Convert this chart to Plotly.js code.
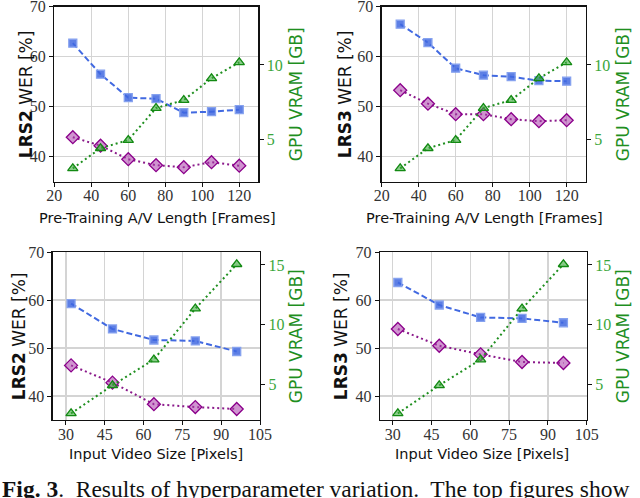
<!DOCTYPE html>
<html>
<head>
<meta charset="utf-8">
<script src="https://cdn.plot.ly/plotly-3.0.1.min.js"></script>
<style>
  html, body { margin: 0; padding: 0; background: #fff; }
  #chart { width: 640px; height: 498px; }
</style>
</head>
<body>
<div id="chart"></div>
<script>
// x values
var frames = [30, 45, 60, 75, 90, 105, 120];
var pixels = [32, 48, 64, 80, 96];

// WER values
var lrs2LenSquare  = [62.7, 56.5, 51.8, 51.6, 48.8, 49.0, 49.4];
var lrs2LenDiamond = [43.9, 42.2, 39.5, 38.3, 37.9, 38.9, 38.2];
var lrs3LenSquare  = [66.5, 62.8, 57.7, 56.3, 56.0, 55.2, 55.1];
var lrs3LenDiamond = [53.3, 50.6, 48.5, 48.5, 47.5, 47.1, 47.3];
var lrs2SizeSquare  = [59.3, 54.0, 51.7, 51.5, 49.3];
var lrs2SizeDiamond = [46.4, 42.8, 38.3, 37.7, 37.3];
var lrs3SizeSquare  = [63.7, 59.0, 56.4, 56.2, 55.3];
var lrs3SizeDiamond = [54.0, 50.5, 48.7, 47.1, 46.9];

// GPU memory
var vramLength = [3.05, 4.4, 4.95, 7.1, 7.64, 9.1, 10.18];
var vramSize   = [2.6, 4.95, 7.1, 11.35, 15.06];

// tick labels
var lengthTicks = [20, 40, 60, 80, 100, 120];
var sizeTicks = [30, 45, 60, 75, 90, 105];
var werTicks = [40, 50, 60, 70];

var W = 640, H = 498;
var BLUE = '#4169e1', PURPLE = '#8b1a8b', GREEN = '#1f8f1f', GREEN_TXT = '#3aa63a';
var SERIF = 'Liberation Serif, serif';
var SANS = 'DejaVu Sans, sans-serif';

function px(x) { return x / W; }
function py(y) { return 1 - y / H; }

var traces = [];
var layout = {
    width: W, height: H,
    margin: {l: 0, r: 0, t: 0, b: 0},
    paper_bgcolor: '#fff', plot_bgcolor: '#fff',
    showlegend: false,
    annotations: []
};

function addPanel(n, box, xs, sq, di, vram, xcfg, y2range, y2ticks, titles) {
    var xa = n == 1 ? 'x' : 'x' + n;
    var ya = 'y' + (n == 1 ? '' : (2 * n - 1));
    var yb = 'y' + (2 * n);
    var xKey = n == 1 ? 'xaxis' : 'xaxis' + n;
    var yKey = 'yaxis' + (n == 1 ? '' : (2 * n - 1));
    var y2Key = 'yaxis' + (2 * n);

    traces.push({
        x: xs, y: sq, xaxis: xa, yaxis: ya, type: 'scatter', mode: 'lines+markers',
        line: {color: BLUE, width: 2, dash: '6px,3px'},
        marker: {symbol: 'square', size: 8, color: 'rgba(65,105,225,0.85)', line: {color: '#86a2ef', width: 1.3}}
    });
    traces.push({
        x: xs, y: di, xaxis: xa, yaxis: ya, type: 'scatter', mode: 'lines+markers',
        line: {color: PURPLE, width: 2, dash: '2px,3px'},
        marker: {symbol: 'diamond', size: 10, color: 'rgba(170,60,170,0.55)', line: {color: '#8b008b', width: 1.3}}
    });
    traces.push({
        x: xs, y: vram, xaxis: xa, yaxis: yb, type: 'scatter', mode: 'lines+markers',
        line: {color: GREEN, width: 2, dash: '2px,3px'},
        marker: {symbol: 'triangle-up', size: 9, color: 'rgba(60,170,60,0.6)', line: {color: '#138a13', width: 1.3}}
    });

    var xd = [px(box[0]), px(box[1])];
    var yd = [py(box[3]), py(box[2])];

    layout[xKey] = {
        domain: xd, anchor: ya, range: xcfg.range, tickvals: xcfg.ticks,
        showgrid: true, gridcolor: '#d4d4d4', gridwidth: 1.5, zeroline: false,
        showline: true, linecolor: '#111', linewidth: 1.3, mirror: true,
        ticks: 'outside', ticklen: 4, tickcolor: '#111', ticklabeloverflow: 'allow',
        ticklabelstandoff: -5,
        tickfont: {family: SERIF, size: 16, color: '#333'}
    };
    layout[yKey] = {
        domain: yd, anchor: xa, range: [35, 70], tickvals: werTicks,
        showgrid: true, gridcolor: '#d4d4d4', gridwidth: 1.5, zeroline: false,
        showline: true, linecolor: '#111', linewidth: 1.3,
        ticks: 'outside', ticklen: 4, tickcolor: '#111', ticklabeloverflow: 'allow',
        tickfont: {family: SERIF, size: 16, color: '#333'}
    };
    layout[y2Key] = {
        overlaying: ya, anchor: xa, side: 'right', range: y2range, tickvals: y2ticks,
        showgrid: false, zeroline: false,
        showline: true, linecolor: '#111', linewidth: 1.3,
        ticks: 'outside', ticklen: 4, tickcolor: '#111', ticklabeloverflow: 'allow',
        tickfont: {family: SERIF, size: 16, color: GREEN_TXT}
    };

    var midY = (box[2] + box[3]) / 2;
    layout.annotations.push({
        xref: 'paper', yref: 'paper', x: px(titles.leftX), y: py(midY), textangle: -90,
        xanchor: 'center', yanchor: 'middle',
        text: '<b>' + titles.set + '</b> WER [%]', showarrow: false,
        font: {family: SANS, size: 17, color: '#111'}
    });
    layout.annotations.push({
        xref: 'paper', yref: 'paper', x: px(titles.rightX), y: py(midY), textangle: -90,
        xanchor: 'center', yanchor: 'middle',
        text: 'GPU VRAM [GB]', showarrow: false,
        font: {family: SANS, size: 17, color: GREEN}
    });
    layout.annotations.push({
        xref: 'paper', yref: 'paper', x: px(titles.bottomX), y: py(titles.bottomY),
        xanchor: 'center', yanchor: 'middle',
        text: titles.xTitle, showarrow: false,
        font: {family: SANS, size: 14.5, color: '#111'}
    });
}

// boxes: [left, right, top, bottom] in pixels
addPanel(1, [54.3, 258.3, 6.7, 181.7], frames, lrs2LenSquare, lrs2LenDiamond, vramLength,
    {range: [20, 130.3], ticks: lengthTicks}, [2.15, 13.92], [5, 10],
    {set: 'LRS2', leftX: 26, rightX: 296, bottomX: 157, bottomY: 218, xTitle: 'Pre-Training A/V Length [Frames]'});
addPanel(2, [381.7, 585.7, 6.7, 181.7], frames, lrs3LenSquare, lrs3LenDiamond, vramLength,
    {range: [20, 130.3], ticks: lengthTicks}, [2.15, 13.92], [5, 10],
    {set: 'LRS3', leftX: 345, rightX: 623, bottomX: 484, bottomY: 218, xTitle: 'Pre-Training A/V Length [Frames]'});
addPanel(3, [52.7, 260, 252.3, 420], pixels, lrs2SizeSquare, lrs2SizeDiamond, vramSize,
    {range: [24.9, 105], ticks: sizeTicks}, [2.05, 16.06], [5, 10, 15],
    {set: 'LRS2', leftX: 19, rightX: 296, bottomX: 156, bottomY: 454, xTitle: 'Input Video Size [Pixels]'});
addPanel(4, [380, 586.7, 252.3, 420], pixels, lrs3SizeSquare, lrs3SizeDiamond, vramSize,
    {range: [25.1, 105], ticks: sizeTicks}, [2.05, 16.06], [5, 10, 15],
    {set: 'LRS3', leftX: 341, rightX: 623, bottomX: 482, bottomY: 454, xTitle: 'Input Video Size [Pixels]'});

// caption, cut off at the bottom like the page scan
layout.annotations.push({
    xref: 'paper', yref: 'paper', x: 0, y: py(474), xanchor: 'left', yanchor: 'top',
    text: '<b>Fig. 3</b>.  Results of hyperparameter variation.  The top figures show',
    showarrow: false, font: {family: SERIF, size: 23.5, color: '#111'}
});

Plotly.newPlot('chart', traces, layout, {staticPlot: true, displayModeBar: false});
</script>
</body>
</html>
